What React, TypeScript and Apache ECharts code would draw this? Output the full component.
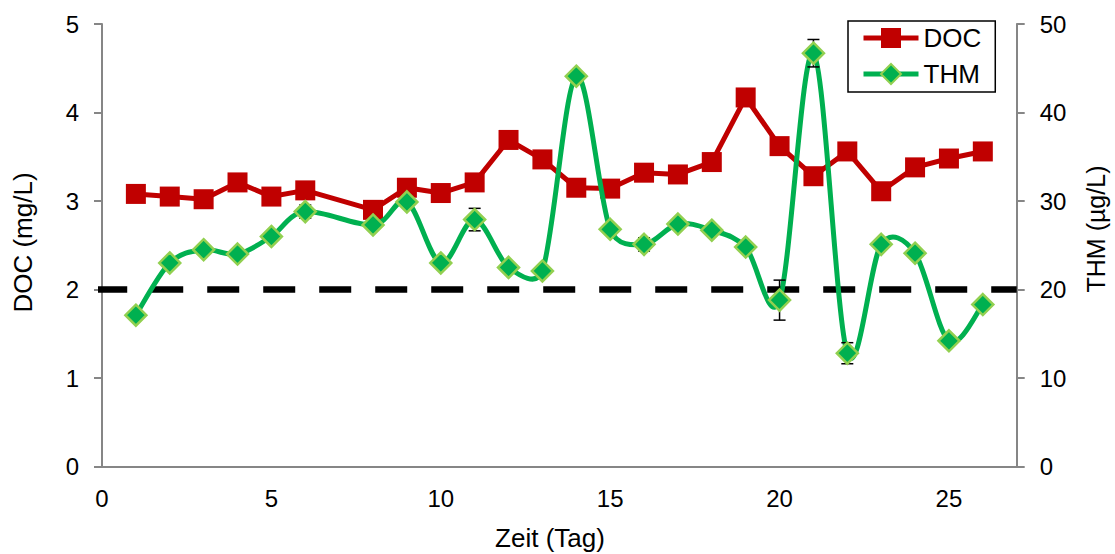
import React, { useEffect, useRef } from 'react';
import * as echarts from 'echarts';

// Days of sampling (day 7 missing)
const days = [1, 2, 3, 4, 5, 6, 8, 9, 10, 11, 12, 13, 14, 15, 16, 17, 18, 19, 20, 21, 22, 23, 24, 25, 26];
// DOC (mg/L), left axis
const doc = [3.08, 3.05, 3.02, 3.21, 3.05, 3.12, 2.9, 3.15, 3.09, 3.21, 3.69, 3.47, 3.15, 3.14, 3.32, 3.3, 3.44, 4.17, 3.62, 3.28, 3.56, 3.11, 3.38, 3.48, 3.56];
// THM (µg/L), right axis
const thm = [17.1, 23.0, 24.5, 24.0, 26.0, 28.8, 27.3, 29.9, 23.0, 27.9, 22.5, 22.1, 44.1, 26.8, 25.1, 27.4, 26.7, 24.8, 18.8, 46.7, 12.8, 25.1, 24.1, 14.2, 18.3];
// THM error (± µg/L), 0 = no visible error bar
const thmErr = [0, 0, 0, 0, 0, 0.75, 0, 0, 0, 1.27, 0, 0, 0, 0, 0.75, 0, 0, 0, 2.26, 1.55, 1.19, 0, 0, 0, 0];
// Threshold line (DOC = 2 mg/L ≙ THM 20 µg/L)
const thresholdX = [-0.2, 27];
const thresholdDOC = 2;

const xTicks = { min: 0, max: 27, interval: 5 };
const yLeftTicks = { min: 0, max: 5, interval: 1 };
const yRightTicks = { min: 0, max: 50, interval: 10 };

const FONT = '"Liberation Sans", Arial, sans-serif';
const AXIS_GRAY = '#868686';

export default function App() {
  const ref = useRef<HTMLDivElement>(null);

  useEffect(() => {
    const chart = echarts.init(ref.current!, null, { renderer: 'svg' });

    const errData = days
      .map((d, i) => [d, thm[i], thmErr[i]])
      .filter((r) => r[2] > 0);

    const axisCommon = {
      axisLine: { show: true, lineStyle: { color: AXIS_GRAY, width: 2 } },
      splitLine: { show: false },
    };

    const option: any = {
      animation: false,
      backgroundColor: '#fff',
      grid: { left: 102, right: 98.3, top: 24, bottom: 87.5, outerBoundsMode: 'none' },
      legend: {
        orient: 'vertical',
        left: 848,
        top: 21,
        padding: [4, 14, 5, 13],
        itemGap: 10,
        itemWidth: 55,
        itemHeight: 25,
        borderColor: '#000',
        borderWidth: 1.5,
        backgroundColor: '#fff',
        selectedMode: false,
        textStyle: { fontSize: 26, fontFamily: FONT, color: '#000' },
        data: [
          { name: 'DOC', lineStyle: { opacity: 1, width: 5, color: '#c00000' } },
          { name: 'THM', lineStyle: { opacity: 1, width: 5, color: '#00b050' } },
        ],
      },
      xAxis: {
        type: 'value',
        ...xTicks,
        ...axisCommon,
        axisTick: { show: false },
        axisLabel: { margin: 20, fontSize: 24, fontFamily: FONT, color: '#000', showMaxLabel: false },
      },
      yAxis: [
        {
          type: 'value',
          position: 'left',
          ...yLeftTicks,
          ...axisCommon,
          axisTick: { show: true, length: 8, lineStyle: { color: AXIS_GRAY, width: 2 } },
          axisLabel: { margin: 23, fontSize: 24, fontFamily: FONT, color: '#000' },
        },
        {
          type: 'value',
          position: 'right',
          ...yRightTicks,
          ...axisCommon,
          axisTick: { show: true, length: 8, lineStyle: { color: AXIS_GRAY, width: 2 } },
          axisLabel: { margin: 23, fontSize: 24, fontFamily: FONT, color: '#000' },
        },
      ],
      series: [
        {
          name: 'Grenzwert',
          type: 'line',
          xAxisIndex: 0,
          yAxisIndex: 0,
          data: thresholdX.map((x) => [x, thresholdDOC]),
          symbol: 'none',
          clip: false,
          silent: true,
          z: 1,
          lineStyle: { color: '#000', width: 6.5, type: [32, 24] },
        },
        {
          name: 'DOC',
          type: 'line',
          xAxisIndex: 0,
          yAxisIndex: 0,
          data: days.map((d, i) => [d, doc[i]]),
          symbol: 'rect',
          symbolSize: 20,
          z: 2,
          itemStyle: { color: '#c00000' },
          lineStyle: { color: '#c00000', width: 5 },
        },
        {
          name: 'THM-Kurve',
          type: 'custom',
          coordinateSystem: 'cartesian2d',
          xAxisIndex: 0,
          yAxisIndex: 1,
          silent: true,
          z: 3,
          data: [[days[0], thm[0]]],
          renderItem: (_params: any, api: any) => {
            const pts = days.map((d, i) => api.coord([d, thm[i]]));
            let path = `M${pts[0][0]},${pts[0][1]}`;
            const clampT = (t: number[], lim: number) => {
              const l = Math.hypot(t[0], t[1]);
              return l > lim ? [t[0] * lim / l, t[1] * lim / l] : t;
            };
            for (let i = 0; i < pts.length - 1; i++) {
              const p0 = pts[i - 1] || pts[i];
              const p1 = pts[i];
              const p2 = pts[i + 1];
              const p3 = pts[i + 2] || pts[i + 1];
              const lim = Math.hypot(p2[0] - p1[0], p2[1] - p1[1]) / 2;
              const t1 = clampT([(p2[0] - p0[0]) / 6, (p2[1] - p0[1]) / 6], lim);
              const t2 = clampT([(p3[0] - p1[0]) / 6, (p3[1] - p1[1]) / 6], lim);
              path += ` C${p1[0] + t1[0]},${p1[1] + t1[1]} ${p2[0] - t2[0]},${p2[1] - t2[1]} ${p2[0]},${p2[1]}`;
            }
            return {
              type: 'path',
              shape: { pathData: path },
              style: { fill: 'none', stroke: '#00b050', lineWidth: 5, lineJoin: 'round' },
            };
          },
        },
        {
          name: 'THM-Fehler',
          type: 'custom',
          coordinateSystem: 'cartesian2d',
          xAxisIndex: 0,
          yAxisIndex: 1,
          silent: true,
          z: 4,
          data: errData,
          encode: { x: 0, y: 1 },
          renderItem: (_params: any, api: any) => {
            const x = api.value(0);
            const y = api.value(1);
            const e = api.value(2);
            const top = api.coord([x, y + e]);
            const bot = api.coord([x, y - e]);
            const w = 6;
            const st = { stroke: '#000', lineWidth: 1.5 };
            return {
              type: 'group',
              children: [
                { type: 'line', shape: { x1: top[0], y1: top[1], x2: bot[0], y2: bot[1] }, style: st },
                { type: 'line', shape: { x1: top[0] - w, y1: top[1], x2: top[0] + w, y2: top[1] }, style: st },
                { type: 'line', shape: { x1: bot[0] - w, y1: bot[1], x2: bot[0] + w, y2: bot[1] }, style: st },
              ],
            };
          },
        },
        {
          name: 'THM',
          type: 'line',
          xAxisIndex: 0,
          yAxisIndex: 1,
          data: days.map((d, i) => [d, thm[i]]),
          symbol: 'diamond',
          symbolSize: 21,
          z: 5,
          itemStyle: { color: '#00b050', borderColor: '#92d050', borderWidth: 2.5 },
          lineStyle: { color: '#00b050', width: 5, opacity: 0 },
        },
      ],
      graphic: [
        {
          type: 'text',
          x: 23,
          y: 242.5,
          rotation: Math.PI / 2,
          style: {
            text: 'DOC (mg/L)',
            font: `26px ${FONT}`,
            fill: '#000',
            align: 'center',
            verticalAlign: 'middle',
            textAlign: 'center',
            textVerticalAlign: 'middle',
          },
        },
        {
          type: 'text',
          x: 1095.5,
          y: 229,
          rotation: Math.PI / 2,
          style: {
            text: 'THM (µg/L)',
            font: `25px ${FONT}`,
            fill: '#000',
            align: 'center',
            verticalAlign: 'middle',
            textAlign: 'center',
            textVerticalAlign: 'middle',
          },
        },
        {
          type: 'text',
          x: 550,
          y: 538,
          style: {
            text: 'Zeit (Tag)',
            font: `26px ${FONT}`,
            fill: '#000',
            align: 'center',
            verticalAlign: 'middle',
            textAlign: 'center',
            textVerticalAlign: 'middle',
          },
        },
      ],
    };

    chart.setOption(option);
    return () => chart.dispose();
  }, []);

  return (
    <div
      ref={ref}
      style={{ position: 'fixed', left: 0, top: 0, width: 1115, height: 554, background: '#fff' }}
    />
  );
}
